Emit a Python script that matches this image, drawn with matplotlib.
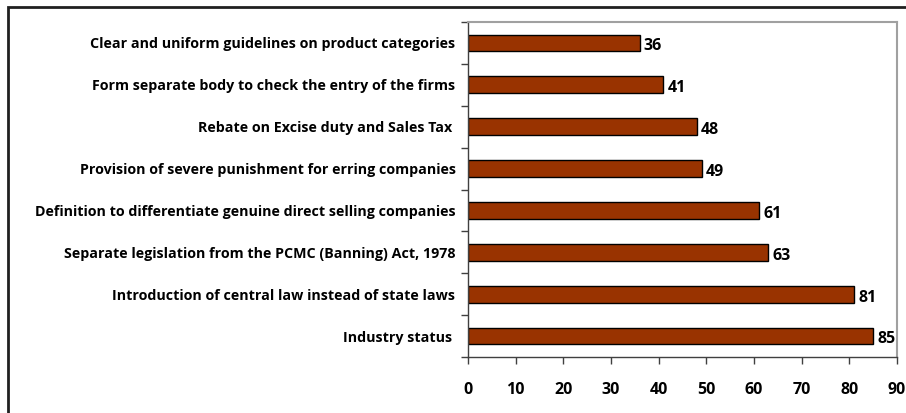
import matplotlib
matplotlib.use("Agg")
import matplotlib.pyplot as plt
from matplotlib.patches import Rectangle
import numpy as np

# categories listed bottom to top
categories = [
    "Industry status ",
    "Introduction of central law instead of state laws",
    "Separate legislation from the PCMC (Banning) Act, 1978",
    "Definition to differentiate genuine direct selling companies",
    "Provision of severe punishment for erring companies",
    "Rebate on Excise duty and Sales Tax ",
    "Form separate body to check the entry of the firms",
    "Clear and uniform guidelines on product categories",
]
values = [85, 81, 63, 61, 49, 48, 41, 36]
x_ticks = [0, 10, 20, 30, 40, 50, 60, 70, 80, 90]

plt.rcParams["font.family"] = ["Open Sans", "DejaVu Sans"]
plt.rcParams["font.weight"] = "bold"
FSZ = 10.3
FNUM = 11.5

W, H = 906, 413
fig = plt.figure(figsize=(W / 100, H / 100), dpi=100)
ax = fig.add_axes([468 / W, 1 - 357 / H, (897 - 468) / W, (357 - 22) / H])

y = np.arange(len(categories))
ax.barh(y, values, height=0.4, color="#993300", edgecolor="black", linewidth=1.0, zorder=2)

for yi, v in zip(y, values):
    ax.text(v + 0.9, yi - 0.08, str(v), va="center", ha="left",
            fontsize=FNUM, fontweight="bold", color="black")

ax.set_xlim(0, 90)
ax.set_ylim(-0.5, len(categories) - 0.5)
ax.set_xticks(x_ticks)
ax.set_xticklabels([str(t) for t in x_ticks], fontsize=FNUM, fontweight="bold")
ax.tick_params(axis="x", direction="out", length=5, width=1, color="#404040", pad=13)

# category labels at centers, ticks at boundaries
ax.set_yticks(y)
ax.set_yticklabels(categories, fontsize=FSZ, fontweight="bold")
ax.tick_params(axis="y", which="major", length=0, pad=9)
ax.set_yticks(np.arange(-0.5, len(categories), 1.0), minor=True)
ax.tick_params(axis="y", which="minor", direction="out", length=5, width=1, color="#404040")

for side in ["left", "bottom"]:
    ax.spines[side].set_color("#404040")
    ax.spines[side].set_linewidth(1.0)
for side in ["top", "right"]:
    ax.spines[side].set_color("#a0a0a0")
    ax.spines[side].set_linewidth(1.5)

# outer chart border
fig.patches.append(Rectangle((8 / W, -0.05), 1.1, 1 - 7 / H + 0.05,
                             transform=fig.transFigure, fill=False,
                             edgecolor="#202020", linewidth=2))

fig.savefig("out.png", dpi=100)
